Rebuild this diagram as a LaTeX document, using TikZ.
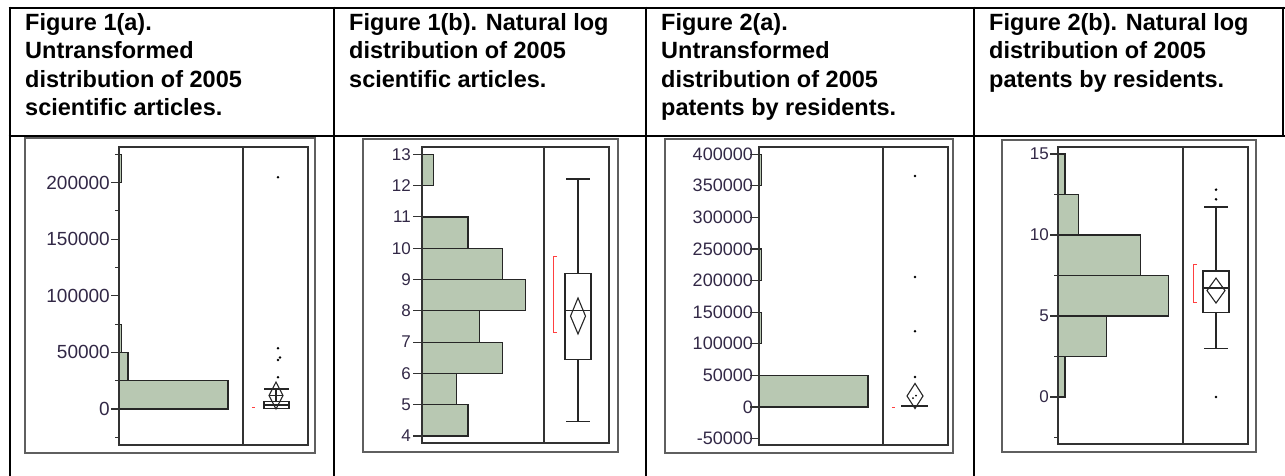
\documentclass[tikz,border=0pt]{standalone}
\usepackage{fontspec}
\setmainfont{Liberation Sans}
\definecolor{barfill}{RGB}{184,200,178}
\definecolor{ticktext}{RGB}{50,40,70}
\definecolor{framegray}{RGB}{95,95,95}
\tikzset{
  table line/.style = {line width=2.6pt, black},
  outer frame/.style = {draw=framegray, line width=1.6pt},
  plot frame/.style = {draw=black!80, line width=1.3pt},
  hist bar/.style = {draw=black!85, line width=1.2pt, fill=barfill},
  axis tick/.style = {black!80, line width=1.1pt},
  tick label/.style = {anchor=east, inner sep=0pt, text=ticktext, font=\fontsize{#1}{#1}\selectfont},
  heading/.style = {anchor=north west, inner sep=0pt, align=left, font=\fontsize{23.5}{28.5}\selectfont\bfseries},
  whisker/.style = {black!85, line width=1.1pt},
  dot/.style = {circle, fill=black, inner sep=0pt, minimum size=2.8pt},
  small dot/.style = {circle, fill=black, inner sep=0pt, minimum size=2pt},
  mean bracket/.style = {red!75!white, line width=1pt}
}

\begin{document}
\begin{tikzpicture}[x=1pt, y=-1pt]
  \useasboundingbox (0,0) rectangle (1285,476);

  % table
  \draw[table line] (8.7,8) -- (1285,8);
  \draw[table line] (8.7,136) -- (1285,136);
  \draw[table line] (10,6.7) -- (10,476);
  \foreach \x in {334,646,974} \draw[table line] (\x,6.7) -- (\x,476);
  \draw[table line] (1283,6.7) -- (1283,136);

  \node[heading] (h1a) at (25,13) {Figure 1(a).\\Untransformed\\distribution of 2005\\scientific articles.};
  \node[heading] (h1b) at (349,13) {Figure 1(b). Natural log\\distribution of 2005\\scientific articles.};
  \node[heading] (h2a) at (661,13) {Figure 2(a).\\Untransformed\\distribution of 2005\\patents by residents.};
  \node[heading] (h2b) at (989,13) {Figure 2(b). Natural log\\distribution of 2005\\patents by residents.};

  % panel 1(a): values in thousands
  \draw[outer frame] (25,138) rectangle (315,453);
  \begin{scope}[shift={(0,409)}, yscale=-1.132]
    \draw[hist bar] (119,0) rectangle (228,25);
    \draw[hist bar] (119,25) rectangle (128,50);
    \draw[hist bar] (119,50) rectangle (121.5,75);
    \draw[hist bar] (119,200) rectangle (121.5,225);
    \foreach \v/\t in {0/0,50/50000,100/100000,150/150000,200/200000} {
      \draw[axis tick] (111,\v) -- (119,\v);
      \node[tick label=19] (lab1-\v) at (110,\v) {\t};
    }
    \foreach \v in {-25,25,75,125,175,225} \draw[axis tick] (115,\v) -- (119,\v);
    % box plot
    \foreach \xx/\v [count=\i] in {278/204.7,278/53.6,280/45.5,278/43.3,278/28}
      \node[dot] (out1-\i) at (\xx,\v) {};
    \draw[whisker] (264,17.7) -- (289,17.7);
    \draw[whisker] (276,17.7) -- (276,7);
    \draw[whisker] (264,0.5) rectangle (289,7);
    \draw[whisker] (264,3.5) -- (289,3.5);
    \draw[whisker] (276,23.8) -- (283,11.9) -- (276,0) -- (269,11.9) -- cycle;
    \draw[whisker] (269,11.9) -- (283,11.9);
    \draw[mean bracket] (252,1) -- (255,1);
  \end{scope}
  \draw[plot frame] (119,147) rectangle (308,445);
  \draw[plot frame] (243,147) -- (243,445);

  % panel 1(b)
  \draw[outer frame] (363,139) rectangle (618,452);
  \begin{scope}[shift={(0,561.2)}, yscale=-31.3]
    \foreach \lo/\n in {4/4,5/3,6/7,7/5,8/9,9/7,10/4,12/1}
      \draw[hist bar] (422,\lo) rectangle ({422+11.5*\n},\lo+1);
    \foreach \v in {4,...,13} {
      \draw[axis tick] (413,\v) -- (422,\v);
      \node[tick label=17] (lab2-\v) at (411,\v) {\v};
    }
    % box plot
    \draw[whisker] (566,12.21) -- (590,12.21);
    \draw[whisker] (566,4.45) -- (590,4.45);
    \draw[whisker] (578,12.21) -- (578,9.18);
    \draw[whisker] (578,6.43) -- (578,4.45);
    \draw[whisker] (565,6.43) rectangle (591,9.18);
    \draw[whisker] (565,8) -- (591,8);
    \draw[whisker] (578,8.41) -- (585.5,7.83) -- (578,7.26) -- (570.5,7.83) -- cycle;
    \draw[mean bracket] (557,9.75) -- (553,9.75) -- (553,7.32) -- (557,7.32);
  \end{scope}
  \draw[plot frame] (422,147) rectangle (609,443);
  \draw[plot frame] (544,147) -- (544,443);

  % panel 2(a): values in thousands
  \draw[outer frame] (665,139) rectangle (953,453);
  \begin{scope}[shift={(0,407)}, yscale=-0.632]
    \draw[hist bar] (759,0) rectangle (868,50);
    \foreach \lo in {100,200,350} \draw[hist bar] (759,\lo) rectangle (761.5,\lo+50);
    \foreach \v/\t in {-50/-50000,0/0,50/50000,100/100000,150/150000,200/200000,250/250000,300/300000,350/350000,400/400000} {
      \node[tick label=18] (lab3-\v) at (753,\v) {\t};
      \draw[axis tick] (750,\v) -- (759,\v);
    }
    % box plot
    \foreach \v [count=\i] in {365.5,205.7,120,47.5} \node[dot] (out3-\i) at (915,\v) {};
    \draw[whisker] (915,37.2) -- (923,17.4) -- (915,-2.4) -- (907,17.4) -- cycle;
    \node[small dot] (in3-1) at (913,14) {};
    \node[small dot] (in3-2) at (916,18) {};
    \draw[whisker, line width=2pt] (901,1.6) -- (928,1.6);
    \draw[mean bracket] (892,0) -- (895,0);
  \end{scope}
  \draw[plot frame] (759,147) rectangle (948,445);
  \draw[plot frame] (883,147) -- (883,445);

  % panel 2(b)
  \draw[outer frame] (1002,140) rectangle (1256,452);
  \begin{scope}[shift={(0,397)}, yscale=-16.2]
    \foreach \lo/\n in {0/1,2.5/7,5/16,7.5/12,10/3,12.5/1}
      \draw[hist bar] (1058,\lo) rectangle ({1058+6.9*\n},\lo+2.5);
    \foreach \v in {0,5,10,15} {
      \draw[axis tick] (1050,\v) -- (1058,\v);
      \node[tick label=17] (lab4-\v) at (1049,\v) {\v};
    }
    \foreach \v in {-2.5,2.5,7.5,12.5} \draw[axis tick] (1054,\v) -- (1058,\v);
    % box plot
    \foreach \v [count=\i] in {12.8,12.2,0} \node[dot] (out4-\i) at (1216,\v) {};
    \draw[whisker] (1204,11.73) -- (1228,11.73);
    \draw[whisker] (1204,3.02) -- (1228,3.02);
    \draw[whisker] (1216,11.73) -- (1216,7.78);
    \draw[whisker] (1216,5.19) -- (1216,3.02);
    \draw[whisker] (1203,5.19) rectangle (1229,7.78);
    \draw[whisker] (1203,6.73) -- (1229,6.73);
    \draw[whisker] (1216,7.34) -- (1225,6.57) -- (1216,5.8) -- (1207,6.57) -- cycle;
    \draw[mean bracket] (1197,8.2) -- (1193,8.2) -- (1193,5.86) -- (1197,5.86);
  \end{scope}
  \draw[plot frame] (1058,147) rectangle (1248,444);
  \draw[plot frame] (1183,147) -- (1183,444);
\end{tikzpicture}
\end{document}
